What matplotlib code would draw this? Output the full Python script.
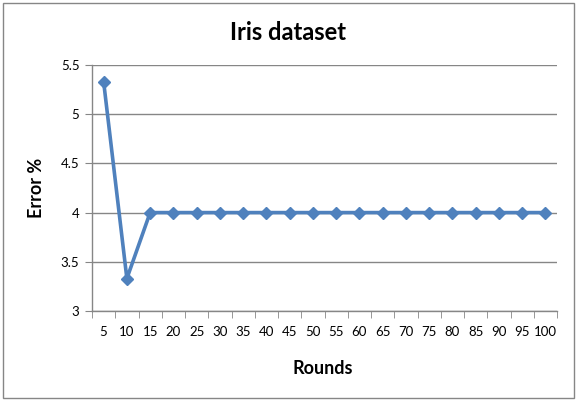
import matplotlib
matplotlib.use("Agg")
import matplotlib.pyplot as plt
from matplotlib.patches import Rectangle
import numpy as np

rounds = [5, 10, 15, 20, 25, 30, 35, 40, 45, 50, 55, 60, 65, 70, 75, 80, 85, 90, 95, 100]
error = [5.33, 3.33, 4, 4, 4, 4, 4, 4, 4, 4, 4, 4, 4, 4, 4, 4, 4, 4, 4, 4]
yticks = [3, 3.5, 4, 4.5, 5, 5.5]

plt.rcParams['font.family'] = ['Lato', 'DejaVu Sans']
fig = plt.figure(figsize=(5.77, 4.01), dpi=100)
fig.patches.append(Rectangle((3/577, 3/401), 571/577, 395/401, transform=fig.transFigure,
                             fill=False, edgecolor='#868686', linewidth=1))

ax = fig.add_axes([92/577, 1-311/401, (557-92)/577, (311-65)/401])
x = np.arange(len(rounds))
ax.plot(x, error, color='#4F81BD', linewidth=2.6, marker='D', markersize=6,
        markerfacecolor='#4F81BD', markeredgecolor='#4F81BD', zorder=3, clip_on=False)

ax.set_xlim(-0.5, len(rounds) - 0.5)
ax.set_ylim(3, 5.5)
ax.set_yticks(yticks)
ax.set_yticklabels([f"{v:g}" for v in yticks])
ax.set_xticks(x)
ax.set_xticklabels([str(r) for r in rounds])
ax.set_xticks(np.arange(-0.5, len(rounds), 1.0), minor=True)
ax.tick_params(axis='x', which='major', length=0, pad=11, labelsize=9.5)
ax.tick_params(axis='x', which='minor', length=5, color='#868686', direction='out')
ax.tick_params(axis='y', length=5, color='#868686', direction='out', pad=4, labelsize=9.5)

ax.grid(axis='y', color='#868686', linewidth=1)
ax.set_axisbelow(True)
for s in ['top', 'right']:
    ax.spines[s].set_visible(False)
for s in ['left', 'bottom']:
    ax.spines[s].set_color('#868686')
    ax.spines[s].set_linewidth(1)

fig.text(288/577, 1-32/401, "Iris dataset", ha='center', va='center', fontsize=17, fontweight='bold')
fig.text(37/577, 1-188/401, "Error %", ha='center', va='center', fontsize=13, fontweight='bold', rotation=90)
fig.text(323/577, 1-368/401, "Rounds", ha='center', va='center', fontsize=13, fontweight='bold')

fig.savefig("out.png", dpi=100)
